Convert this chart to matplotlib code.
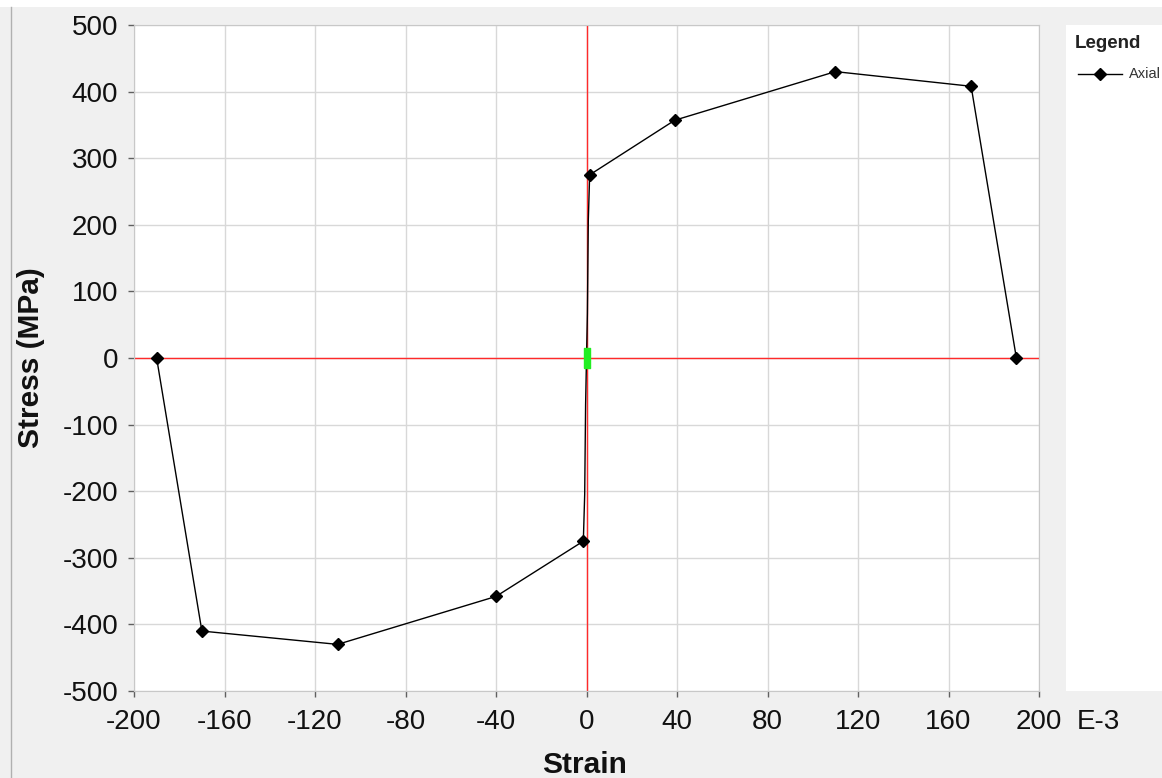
import numpy as np
import matplotlib.pyplot as plt
from matplotlib.patches import Rectangle
from matplotlib.lines import Line2D

plt.rcParams['font.family'] = ['Liberation Sans', 'DejaVu Sans']
plt.rcParams['axes.unicode_minus'] = False

# stress-strain curve (strain in E-3, stress in MPa)
strain = [-190, -170, -110, -40, -1.4, -0.8, -0.4, 0, 0.4, 0.8, 1.4, 39, 110, 170, 190]
stress = [0, -410, -430, -358, -275, -205, -70, 0, 67, 207, 275, 357, 430, 408, 0]
marked = [0, 1, 2, 3, 4, 10, 11, 12, 13, 14]

xticks = np.arange(-200, 201, 40)
yticks = np.arange(-500, 501, 100)

W, H = 1162, 778
fig = plt.figure(figsize=(W / 100, H / 100), dpi=100, facecolor='#f0f0f0')
ax = fig.add_axes([134 / W, 87 / H, 905 / W, 666 / H])
ax.set_facecolor('white')

ax.set_xlim(-200, 200)
ax.set_ylim(-500, 500)
ax.set_xticks(xticks)
ax.set_yticks(yticks)
ax.grid(True, color='#d8d8d8', linewidth=1)
ax.set_axisbelow(True)
for s in ax.spines.values():
    s.set_color('#c8c8c8')
ax.tick_params(direction='out', length=4.5, width=1, color='#606060',
               labelsize=20, labelcolor='#111111')
ax.tick_params(axis='y', pad=7)
ax.tick_params(axis='x', pad=8.5)

ax.axhline(0, color='#ff2a2a', linewidth=1, zorder=2)
ax.axvline(0, color='#ff2a2a', linewidth=1, zorder=2)

ax.plot(strain, stress, color='black', linewidth=1, zorder=3)
ax.plot([strain[i] for i in marked], [stress[i] for i in marked],
        linestyle='none', marker='D', color='black', markersize=6, zorder=4)

# green origin marker
rect_marker = [(-1, -3), (1, -3), (1, 3), (-1, 3), (-1, -3)]
ax.plot([0], [0], linestyle='none', marker=rect_marker, color='#22ee22',
        markersize=14, zorder=5)

fig.text(585 / W, 1 - 765 / H, 'Strain', fontsize=21.5, fontweight='bold',
         ha='center', va='center', color='#111111')
fig.text(31 / W, 1 - 358 / H, 'Stress (MPa)', fontsize=21.5, fontweight='bold',
         ha='center', va='center', rotation=90, color='#111111')
fig.text(1077 / W, 1 - 722 / H, 'E-3', fontsize=20, va='center', ha='left',
         color='#111111')

# legend panel
fig.patches.append(Rectangle((1066 / W, 87 / H), 96 / W, 666 / H,
                             transform=fig.transFigure, facecolor='white',
                             edgecolor='none', zorder=0))
fig.text(1075 / W, 1 - 43 / H, 'Legend', fontsize=13.5, fontweight='bold',
         va='center', ha='left', color='#222222')
fig.lines.append(Line2D([1078 / W, 1122 / W], [1 - 74 / H, 1 - 74 / H],
                        transform=fig.transFigure, color='black', linewidth=1))
fig.lines.append(Line2D([1100 / W], [1 - 74 / H], transform=fig.transFigure,
                        color='black', marker='D', markersize=6, linestyle='none'))
fig.text(1129 / W, 1 - 74 / H, 'Axial', fontsize=10.5, va='center', ha='left',
         color='#333333')

# window frame bits
fig.patches.append(Rectangle((0, 1 - 7 / H), 1, 7 / H, transform=fig.transFigure,
                             facecolor='white', edgecolor='none', zorder=0))
fig.lines.append(Line2D([11 / W, 11 / W], [0, 1 - 7 / H],
                        transform=fig.transFigure, color='#b0b0b0', linewidth=1))

fig.savefig('out.png', dpi=100, facecolor=fig.get_facecolor())
